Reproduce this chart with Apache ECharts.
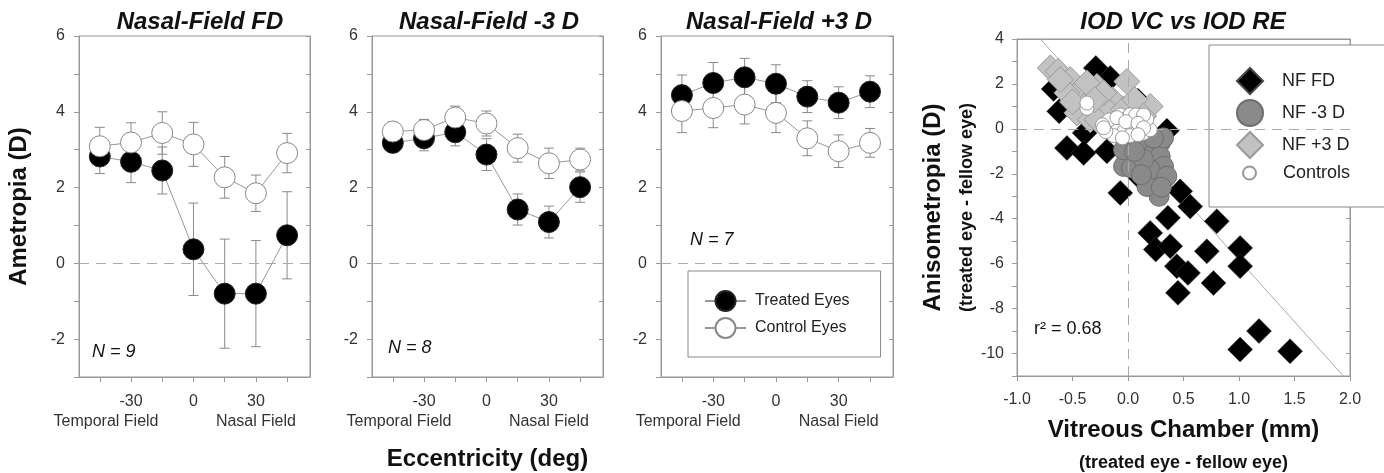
<!DOCTYPE html>
<html>
<head>
<meta charset="utf-8">
<script src="https://cdn.jsdelivr.net/npm/echarts@6/dist/echarts.min.js"></script>
<style>html,body{margin:0;padding:0;background:#fff;}#c{width:1384px;height:473px;}</style>
</head>
<body>
<div id="c"></div>
<script>
// ---------- data ----------
const ecc = [-45, -30, -15, 0, 15, 30, 45];
const eccLabels = [-30, 0, 30];
const fieldLabels = ['Temporal Field', 'Nasal Field'];
const panelTitles = ['Nasal-Field FD', 'Nasal-Field -3 D', 'Nasal-Field +3 D', 'IOD VC vs IOD RE'];
const nLabels = ['N = 9', 'N = 8', 'N = 7'];

const fdTreated = [2.82, 2.68, 2.45, 0.37, -0.80, -0.80, 0.74];
const fdTreatedErr = [0.45, 0.55, 0.62, 1.22, 1.44, 1.40, 1.15];
const fdControl = [3.09, 3.19, 3.44, 3.14, 2.27, 1.85, 2.91];
const fdControlErr = [0.50, 0.52, 0.56, 0.58, 0.55, 0.48, 0.52];

const m3Treated = [3.18, 3.30, 3.46, 2.87, 1.42, 1.09, 2.01];
const m3TreatedErr = [0.25, 0.33, 0.36, 0.42, 0.41, 0.42, 0.40];
const m3Control = [3.48, 3.52, 3.85, 3.69, 3.04, 2.64, 2.74];
const m3ControlErr = [0.25, 0.28, 0.30, 0.33, 0.37, 0.40, 0.30];

const p3Treated = [4.44, 4.76, 4.91, 4.74, 4.40, 4.24, 4.53];
const p3TreatedErr = [0.53, 0.54, 0.50, 0.50, 0.42, 0.42, 0.42];
const p3Control = [4.02, 4.10, 4.19, 3.97, 3.30, 2.96, 3.18];
const p3ControlErr = [0.57, 0.52, 0.51, 0.52, 0.46, 0.43, 0.38];

// IOD panel: [vitreous chamber diff (mm), anisometropia (D)]
const nfFD = [[-0.29, 2.71], [-0.16, 2.26], [-0.67, 1.78], [-0.62, 0.78], [-0.39, -0.18], [-0.55, -0.85],
  [-0.40, -1.07], [-0.19, -1.00], [-0.07, -2.85], [0.11, -2.18], [0.35, -0.08], [0.09, 1.25],
  [0.47, -2.78], [0.56, -3.45], [0.36, -3.96], [0.20, -4.63], [0.25, -5.37], [0.38, -5.22],
  [0.71, -5.45], [0.80, -4.11], [1.01, -5.30], [1.01, -6.11], [0.44, -6.11], [0.54, -6.41],
  [0.45, -7.30], [0.77, -6.86], [1.01, -9.82], [1.18, -9.00], [1.46, -9.90]];
const nfP3 = [[-0.70, 2.71], [-0.63, 2.56], [-0.52, 2.19], [-0.43, 1.74], [-0.55, 1.60], [-0.40, 1.00],
  [-0.28, 1.89], [-0.14, 1.30], [-0.01, 2.11], [-0.19, 0.86], [-0.04, 0.86], [0.20, 1.00],
  [0.06, 1.30], [-0.46, 0.71], [-0.34, 0.41], [-0.22, 1.60], [-0.61, 2.19], [-0.28, 0.41],
  [0.14, 0.56], [-0.37, 2.04], [-0.50, 1.20], [-0.30, 1.30]];
const nfM3 = [[-0.01, -1.37], [-0.04, -1.67], [0.10, -1.22], [0.20, -0.78], [0.29, -0.63], [0.26, -1.96],
  [0.23, -2.41], [0.29, -1.22], [0.32, -1.67], [0.20, -1.82], [0.08, -0.63], [0.28, -3.00],
  [0.35, -2.11], [0.17, -2.56], [0.03, -1.74], [0.14, -1.37], [0.32, -0.40], [0.23, -0.41],
  [-0.04, -0.93], [0.12, -2.04], [0.30, -2.60], [0.06, -1.00]];
const controls = [[-0.37, 0.92], [-0.37, 1.15], [-0.19, 0.10], [-0.13, 0.40], [-0.07, 0.62], [-0.01, 0.47],
  [0.05, 0.40], [-0.10, 0.03], [-0.04, -0.12], [0.04, 0.10], [0.11, 0.18], [0.08, -0.12],
  [0.14, -0.19], [-0.13, -0.30], [-0.20, -0.12], [0.20, -0.04], [0.02, -0.30], [-0.05, -0.40],
  [-0.17, 0.40], [0.02, 0.63], [0.07, 0.62], [0.17, 0.43], [-0.23, 0.18], [0.14, 0.62],
  [-0.10, 0.50], [-0.02, 0.32], [0.09, 0.25], [0.14, 0.05], [-0.22, 0.05], [0.09, -0.26]];
const fitLine = [[-0.79, 4.0], [1.94, -11.0]];
const r2Label = 'r² = 0.68';

// ---------- styling / layout ----------
const FONT = '"Liberation Sans", Arial, Helvetica, sans-serif';
const AX = '#999';
const TXT = '#333';
const gridBase = {show: true, borderColor: AX, borderWidth: 1, backgroundColor: 'transparent',
  containLabel: false, outerBoundsMode: 'none'};
const grids = [
  Object.assign({left: 79, top: 36, width: 231, height: 341}, gridBase),
  Object.assign({left: 372, top: 36, width: 231, height: 341}, gridBase),
  Object.assign({left: 661, top: 36, width: 232, height: 341}, gridBase),
  Object.assign({left: 1017, top: 39, width: 333, height: 337}, gridBase)
];
const panels = [
  {t: fdTreated, te: fdTreatedErr, c: fdControl, ce: fdControlErr},
  {t: m3Treated, te: m3TreatedErr, c: m3Control, ce: m3ControlErr},
  {t: p3Treated, te: p3TreatedErr, c: p3Control, ce: p3ControlErr}
];
const FIELD_POS = [-42, 30];

function errRender(params, api) {
  const x = api.value(0), lo = api.value(1), hi = api.value(2);
  const a = api.coord([x, lo]), b = api.coord([x, hi]);
  const w = 5;
  const st = {stroke: '#8a8a8a', lineWidth: 1};
  return {type: 'group', children: [
    {type: 'line', shape: {x1: a[0], y1: a[1], x2: b[0], y2: b[1]}, style: st},
    {type: 'line', shape: {x1: a[0] - w, y1: a[1], x2: a[0] + w, y2: a[1]}, style: st},
    {type: 'line', shape: {x1: b[0] - w, y1: b[1], x2: b[0] + w, y2: b[1]}, style: st}
  ]};
}

const xAxis = [], yAxis = [], series = [], title = [], graphic = [];
const titleCenters = [195, 484, 774, 1178];
panelTitles.forEach((t, i) => title.push({
  text: t, left: titleCenters[i], top: 5, textAlign: 'center',
  textStyle: {fontSize: 24, fontWeight: 'bold', fontStyle: 'italic', color: '#111', fontFamily: FONT}
}));

const dashed = {color: '#aaa', type: [10, 7], width: 1};

for (let p = 0; p < 3; p++) {
  xAxis.push({
    type: 'value', gridIndex: p, min: -55, max: 56, position: 'bottom',
    axisLine: {onZero: false, lineStyle: {color: AX}},
    axisTick: {customValues: ecc, length: 5, lineStyle: {color: AX}},
    axisLabel: {customValues: eccLabels, margin: 17, fontSize: 16, color: TXT, fontFamily: FONT,
      showMinLabel: true, showMaxLabel: true},
    splitLine: {show: false},
    name: p === 1 ? 'Eccentricity (deg)' : '', nameLocation: 'middle', nameGap: 70,
    nameTextStyle: {fontSize: 24, fontWeight: 'bold', color: '#111', fontFamily: FONT}
  });
  // second x axis: carries the field labels, placed at the bottom edge, labels pointing down
  xAxis.push({
    type: 'value', gridIndex: p, min: -55, max: 56, position: 'top', offset: -341,
    axisLine: {show: false, onZero: false}, axisTick: {show: false},
    axisLabel: {inside: true, customValues: FIELD_POS, margin: 37, fontSize: 16, color: TXT, fontFamily: FONT,
      showMinLabel: true, showMaxLabel: true,
      formatter: v => (v < 0 ? fieldLabels[0] : fieldLabels[1])},
    splitLine: {show: false}
  });
  yAxis.push({
    type: 'value', gridIndex: p, min: -3, max: 6, interval: 1, position: 'left',
    axisLine: {onZero: false, lineStyle: {color: AX}},
    axisTick: {length: 5, lineStyle: {color: AX}},
    axisLabel: {margin: 14, fontSize: 16, color: TXT, fontFamily: FONT,
      formatter: v => (v % 2 === 0 ? String(v) : '')},
    splitLine: {show: false},
    name: p === 0 ? 'Ametropia (D)' : '', nameLocation: 'middle', nameGap: 48,
    nameTextStyle: {fontSize: 24, fontWeight: 'bold', color: '#111', fontFamily: FONT}
  });
  yAxis.push({
    type: 'value', gridIndex: p, min: -3, max: 6, interval: 1, position: 'right',
    axisLine: {onZero: false, lineStyle: {color: AX}},
    axisTick: {inside: true, length: 4, lineStyle: {color: AX}},
    axisLabel: {show: false}, splitLine: {show: false}
  });
  const d = panels[p];
  series.push({
    type: 'custom', name: 'errT' + p, xAxisIndex: 2 * p, yAxisIndex: 2 * p, z: 1,
    renderItem: errRender, encode: {x: 0, y: [1, 2]}, silent: true,
    data: ecc.map((x, i) => [x, d.t[i] - d.te[i], d.t[i] + d.te[i]])
  });
  series.push({
    type: 'custom', name: 'errC' + p, xAxisIndex: 2 * p, yAxisIndex: 2 * p, z: 1,
    renderItem: errRender, encode: {x: 0, y: [1, 2]}, silent: true,
    data: ecc.map((x, i) => [x, d.c[i] - d.ce[i], d.c[i] + d.ce[i]])
  });
  series.push({
    type: 'line', name: 'Treated Eyes', xAxisIndex: 2 * p, yAxisIndex: 2 * p, z: 2,
    data: ecc.map((x, i) => [x, d.t[i]]), symbol: 'circle', symbolSize: 21,
    itemStyle: {color: '#000', borderColor: '#222', borderWidth: 1},
    lineStyle: {color: '#999', width: 1},
    markLine: {silent: true, symbol: 'none', label: {show: false}, lineStyle: dashed, data: [{yAxis: 0}]}
  });
  series.push({
    type: 'line', name: 'Control Eyes', xAxisIndex: 2 * p, yAxisIndex: 2 * p, z: 3,
    data: ecc.map((x, i) => [x, d.c[i]]), symbol: 'circle', symbolSize: 21,
    itemStyle: {color: '#fff', borderColor: '#888', borderWidth: 1},
    lineStyle: {color: '#999', width: 1}
  });
}

// IOD panel axes
xAxis.push({
  type: 'value', gridIndex: 3, min: -1, max: 2, interval: 0.5, position: 'bottom',
  axisLine: {onZero: false, lineStyle: {color: AX}},
  axisTick: {length: 5, lineStyle: {color: AX}},
  axisLabel: {margin: 16, fontSize: 16, color: TXT, fontFamily: FONT, formatter: v => v.toFixed(1)},
  splitLine: {show: false},
  name: '{a|Vitreous Chamber (mm)}\n{b|(treated eye - fellow eye)}', nameLocation: 'middle', nameGap: 39,
  nameTextStyle: {fontFamily: FONT, color: '#111', rich: {
    a: {fontSize: 24, fontWeight: 'bold', lineHeight: 30, color: '#111', fontFamily: FONT},
    b: {fontSize: 18, fontWeight: 'bold', lineHeight: 36, color: '#111', fontFamily: FONT}}}
});
xAxis.push({
  type: 'value', gridIndex: 3, min: -1, max: 2, position: 'top',
  axisLine: {onZero: false, lineStyle: {color: AX}}, axisTick: {show: false},
  axisLabel: {show: false}, splitLine: {show: false}
});
yAxis.push({
  type: 'value', gridIndex: 3, min: -11, max: 4, interval: 1, position: 'left',
  axisLine: {onZero: false, lineStyle: {color: AX}},
  axisTick: {length: 5, lineStyle: {color: AX}},
  axisLabel: {margin: 13, fontSize: 16, color: TXT, fontFamily: FONT,
    formatter: v => (v % 2 === 0 ? String(v) : '')},
  splitLine: {show: false},
  name: '{a|Anisometropia (D)}\n{b|(treated eye - fellow eye)}', nameLocation: 'middle', nameGap: 34,
  nameTextStyle: {fontFamily: FONT, color: '#111', rich: {
    a: {fontSize: 24, fontWeight: 'bold', lineHeight: 36, color: '#111', fontFamily: FONT},
    b: {fontSize: 18, fontWeight: 'bold', lineHeight: 32, color: '#111', fontFamily: FONT}}}
});
yAxis.push({
  type: 'value', gridIndex: 3, min: -11, max: 4, interval: 1, position: 'right',
  axisLine: {onZero: false, lineStyle: {color: AX}},
  axisTick: {inside: true, length: 4, lineStyle: {color: AX}},
  axisLabel: {show: false}, splitLine: {show: false}
});

series.push({
  type: 'line', name: 'fit', xAxisIndex: 6, yAxisIndex: 6, z: 1, data: fitLine,
  symbol: 'none', lineStyle: {color: '#aaa', width: 1}, silent: true,
  markLine: {silent: true, symbol: 'none', label: {show: false}, lineStyle: dashed,
    data: [{yAxis: 0}, {xAxis: 0}]}
});
series.push({
  type: 'scatter', name: 'NF FD', xAxisIndex: 6, yAxisIndex: 6, z: 2, data: nfFD,
  symbol: 'diamond', symbolSize: 25, itemStyle: {color: '#000', borderColor: '#444', borderWidth: 0.5, opacity: 1}
});
series.push({
  type: 'scatter', name: 'NF +3 D', xAxisIndex: 6, yAxisIndex: 6, z: 3, data: nfP3,
  symbol: 'diamond', symbolSize: 26, itemStyle: {color: '#c2c2c2', borderColor: '#9a9a9a', borderWidth: 1, opacity: 1}
});
series.push({
  type: 'scatter', name: 'NF -3 D', xAxisIndex: 6, yAxisIndex: 6, z: 4, data: nfM3,
  symbol: 'circle', symbolSize: 20, itemStyle: {color: '#8a8a8a', borderColor: '#6e6e6e', borderWidth: 1, opacity: 1}
});
series.push({
  type: 'scatter', name: 'Controls', xAxisIndex: 6, yAxisIndex: 6, z: 5, data: controls,
  symbol: 'circle', symbolSize: 14, itemStyle: {color: '#fff', borderColor: '#999', borderWidth: 1, opacity: 1}
});

// annotations
const nPos = [[92, 352], [388, 348], [690, 240]];
nLabels.forEach((t, i) => graphic.push({
  type: 'text', x: nPos[i][0], y: nPos[i][1],
  style: {text: t, font: 'italic 18px ' + FONT, fill: '#111', verticalAlign: 'middle'}
}));
graphic.push({
  type: 'text', x: 1034, y: 329,
  style: {text: r2Label, font: '18px ' + FONT, fill: '#111', verticalAlign: 'middle'}
});

const legendText = {fontSize: 16, color: '#222', fontFamily: FONT};
const option = {
  animation: false,
  backgroundColor: '#fff',
  title: title,
  grid: grids,
  xAxis: xAxis,
  yAxis: yAxis,
  legend: [
    {data: ['Treated Eyes', 'Control Eyes'], orient: 'vertical', left: 688, top: 271,
      itemWidth: 41, itemHeight: 25, itemGap: 5, padding: [19, 31, 18, 16],
      borderColor: '#888', borderWidth: 1, backgroundColor: '#fff', selectedMode: false, z: 5,
      textStyle: Object.assign({padding: [0, 0, 0, 4]}, legendText)},
    {data: ['NF FD', 'NF -3 D', 'NF +3 D'], orient: 'vertical', left: 1209, top: 45,
      itemWidth: 26, itemHeight: 26, itemGap: 4, padding: [22, 60, 48, 27],
      borderColor: '#888', borderWidth: 1, backgroundColor: '#fff', selectedMode: false, z: 5,
      textStyle: {fontSize: 18, color: '#222', fontFamily: FONT, padding: [0, 0, 0, 14]}},
    {data: ['Controls'], orient: 'vertical', left: 1242, top: 164,
      itemWidth: 13, itemHeight: 13, padding: 0, selectedMode: false, z: 6,
      textStyle: {fontSize: 18, color: '#222', fontFamily: FONT, padding: [0, 0, 0, 22]}}
  ],
  series: series,
  graphic: graphic
};
const chart = echarts.init(document.getElementById('c'), null, {renderer: 'canvas'});
chart.setOption(option);
</script>
</body>
</html>
